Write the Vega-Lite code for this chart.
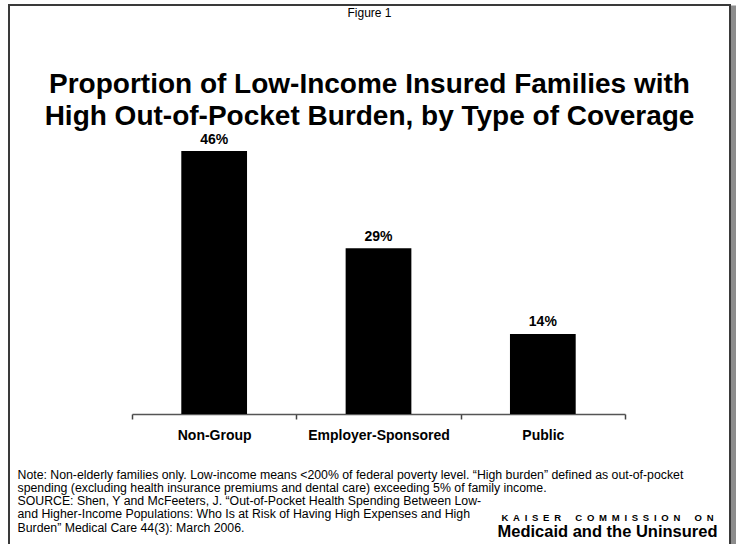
{
  "$schema": "https://vega.github.io/schema/vega-lite/v6.json",
  "autosize": {"type": "none"},
  "padding": {"left": 9, "top": 5, "right": 8, "bottom": 0},
  "width": 721,
  "height": 545,
  "background": "white",
  "config": {
    "font": "Liberation Sans",
    "view": {"stroke": "#3a3a3a", "strokeWidth": 2}
  },
  "title": {
    "text": "Figure 1",
    "subtitle": ["Proportion of Low-Income Insured Families with", "High Out-of-Pocket Burden, by Type of Coverage"],
    "font": "Liberation Sans",
    "fontSize": 12,
    "fontWeight": "normal",
    "color": "#000000",
    "subtitleFont": "Liberation Sans",
    "subtitleFontSize": 28,
    "subtitleFontWeight": "bold",
    "subtitleColor": "#000000",
    "subtitleLineHeight": 32,
    "subtitlePadding": 51,
    "anchor": "middle",
    "frame": "group",
    "offset": -127
  },
  "data": {
    "values": [
      {"coverage": "Non-Group", "value": 46, "label": "46%"},
      {"coverage": "Employer-Sponsored", "value": 29, "label": "29%"},
      {"coverage": "Public", "value": 14, "label": "14%"}
    ]
  },
  "encoding": {
    "x": {
      "field": "coverage",
      "type": "nominal",
      "sort": null,
      "scale": {"range": [123, 616], "paddingInner": 0, "paddingOuter": 0},
      "axis": {
        "title": [
          "Note:  Non-elderly families only.  Low-income means <200% of federal poverty level. “High burden” defined as out-of-pocket",
          "spending (excluding health insurance premiums and dental care)  exceeding 5% of family income.",
          "SOURCE: Shen, Y and McFeeters, J. “Out-of-Pocket Health Spending Between Low-",
          "and Higher-Income Populations: Who Is at Risk of Having High Expenses and High",
          "Burden” Medical Care 44(3): March 2006."
        ],
        "titleFontSize": 12.3,
        "titleFontWeight": "normal",
        "titleColor": "#000000",
        "titleAnchor": "start",
        "titleAlign": "left",
        "titleBaseline": "top",
        "titleX": 8,
        "titleY": 54,
        "titleLineHeight": 13.3,
        "labelAngle": 0,
        "labelFontSize": 14,
        "labelFontWeight": "bold",
        "labelColor": "#000000",
        "labelPadding": 9,
        "ticks": true,
        "tickSize": 5,
        "tickBand": "extent",
        "tickExtra": true,
        "tickColor": "#444444",
        "tickWidth": 1.5,
        "domainColor": "#555555",
        "domainWidth": 1.5,
        "offset": -136
      }
    }
  },
  "layer": [
    {
      "mark": {"type": "bar", "color": "#000000", "width": {"band": 0.4}},
      "encoding": {
        "y": {
          "field": "value",
          "type": "quantitative",
          "scale": {"domain": [-23.79, 71.54], "nice": false, "zero": false},
          "axis": {
            "orient": "right",
            "offset": 3,
            "grid": false,
            "ticks": false,
            "labels": false,
            "domainColor": "#8c8c8c",
            "domainWidth": 5,
            "title": "Medicaid and the Uninsured",
            "titleAngle": 0,
            "titleFontSize": 16.5,
            "titleFontWeight": "bold",
            "titleColor": "#000000",
            "titleAlign": "center",
            "titleBaseline": "middle",
            "titleX": -126,
            "titleY": 526
          }
        }
      }
    },
    {
      "mark": {"type": "text", "dy": -11.5, "fontSize": 14, "fontWeight": "bold", "color": "#000000"},
      "encoding": {
        "text": {"field": "label"},
        "y": {
          "field": "value",
          "type": "quantitative",
          "scale": {"domain": [-23.79, 71.54], "nice": false, "zero": false},
          "axis": {
            "orient": "left",
            "grid": false,
            "domain": false,
            "ticks": false,
            "labels": false,
            "title": "K\u2002A\u2002I\u2002S\u2002E\u2002R\u2003\u2002C\u2002O\u2002M\u2002M\u2002I\u2002S\u2002S\u2002I\u2002O\u2002N\u2003\u2002O\u2002N",
            "titleAngle": 0,
            "titleFontSize": 9.5,
            "titleFontWeight": "bold",
            "titleColor": "#000000",
            "titleAlign": "center",
            "titleBaseline": "middle",
            "titleX": 598,
            "titleY": 512
          }
        }
      }
    }
  ],
  "resolve": {"axis": {"y": "independent"}}
}
